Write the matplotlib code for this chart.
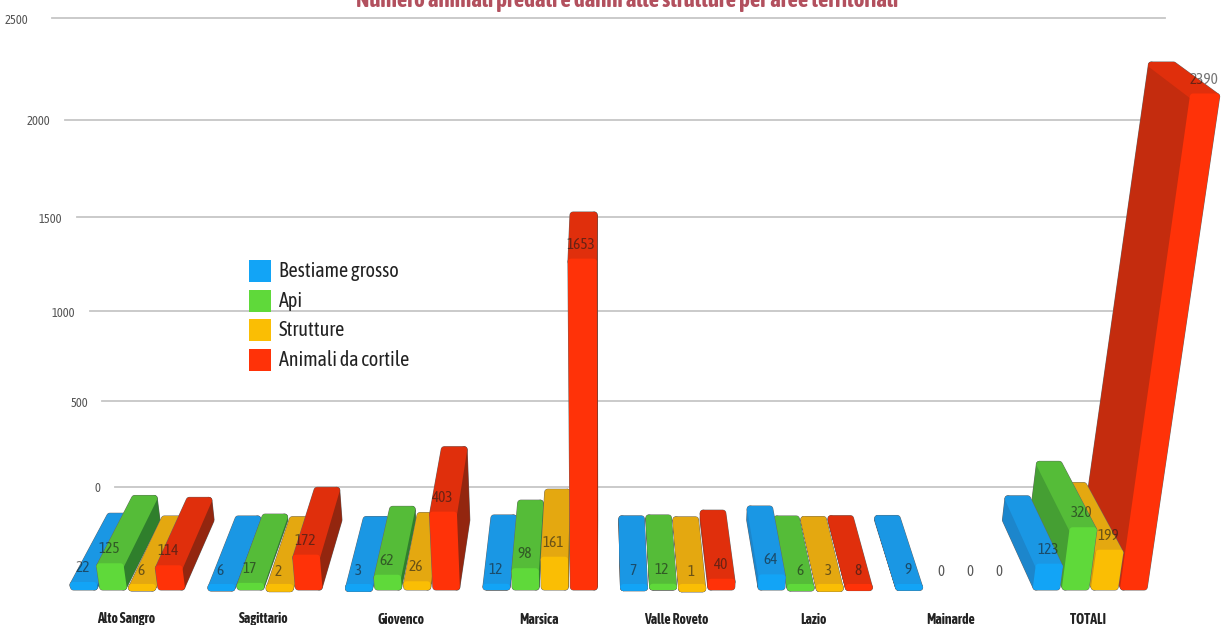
import matplotlib
matplotlib.use('Agg')
import matplotlib.pyplot as plt
from matplotlib.patches import Polygon, Rectangle

plt.rcParams['font.family'] = ['Asap Condensed', 'Barlow Condensed', 'Lato', 'DejaVu Sans']

title = 'Numero animali predati e danni alle strutture per aree territoriali'
categories = ['Alto Sangro', 'Sagittario', 'Giovenco', 'Marsica', 'Valle Roveto', 'Lazio', 'Mainarde', 'TOTALI']
bestiame = [22, 6, 3, 12, 7, 64, 9, 123]
api = [125, 17, 62, 98, 12, 6, 0, 320]
strutture = [6, 2, 26, 161, 1, 3, 0, 199]
cortile = [114, 172, 403, 1653, 40, 8, 0, 2390]
y_ticks = [0, 500, 1000, 1500, 2000, 2500]
series_names = ['Bestiame grosso', 'Api', 'Strutture', 'Animali da cortile']

series = [bestiame, api, strutture, cortile]
# front, top, side on the right, side on the left
colours = [('#12A4F6', '#1A97E4', '#1B6DA6', '#1C86CC'),
           ('#5FD93A', '#55BC38', '#2F7F2C', '#459F33'),
           ('#FABE04', '#E4A810', '#A67A10', '#CF9A0E'),
           ('#FF3208', '#E02F0C', '#93260F', '#C42C0E')]

# the picture is a perspective view, these map a value to the screen (pixels)
xc = 600
base_y = 590
back_base_y = 517
wall_zero_y = 487
half_w = 10.5
group_step = 137.5
bar_step = 29.1


def front_h(v):
    return 0.18 * v + 1.09e-5 * v ** 2


def wall_h(v):
    return 0.168 * v + 7.8e-6 * v ** 2


def lean(x, h):
    return xc + (x - xc) * (1 + 0.00027 * h)


def back_x(x, h):
    return xc + (x - xc) * 0.93 * (1 + 0.00027 * h)


fig = plt.figure(figsize=(12.21, 6.25), dpi=100)
ax = fig.add_axes([0, 0, 1, 1])
ax.set_xlim(0, 1221)
ax.set_ylim(625, 0)
ax.axis('off')

# back wall
tick_x = [97, 79, 63, 50, 38, 16]
for t, tx in zip(y_ticks, tick_x):
    y = wall_zero_y - wall_h(t)
    sc = 1 + 0.1275 * t / 2500
    x1 = 608.5 + (115 - 608.5) * sc
    x2 = 608.5 + (1102 - 608.5) * sc
    ax.plot([x1, x2], [y, y], color='#C6C6C6', lw=1.3, zorder=1)
    ax.text(tx, y + 2, str(t), ha='center', va='center', fontsize=9, color='#555555', zorder=1)

ax.text(627, 1, title, ha='center', va='center', fontsize=16.5, fontweight='bold', color='#B2505E', zorder=5)

bars = []
for g in range(len(categories)):
    for s in range(len(series)):
        x0 = 84 + group_step * g + bar_step * s
        bars.append((x0, series[s][g], s))

# outer bars first so the inner ones cover them
bars.sort(key=lambda b: -abs(b[0] - xc))

for x0, v, s in bars:
    if v == 0:
        continue
    front_c, top_c, side_r, side_l = colours[s]
    h = front_h(v)
    yf0 = base_y - 3
    yf1 = base_y - h - 1
    yb0 = back_base_y + 3
    yb1 = back_base_y + 3 - wall_h(v) * 1.02
    l, r = x0 - half_w, x0 + half_w
    f_bl, f_br = (lean(l, 0), yf0), (lean(r, 0), yf0)
    f_tl, f_tr = (lean(l, h), yf1), (lean(r, h), yf1)
    b_bl, b_br = (back_x(l, 0), yb0), (back_x(r, 0), yb0)
    b_tl, b_tr = (back_x(l, h), yb1), (back_x(r, h), yb1)
    if x0 < xc:
        side = [f_br, f_tr, b_tr, b_br]
        side_c = side_r
    else:
        side = [f_bl, f_tl, b_tl, b_bl]
        side_c = side_l
    top = [f_tl, f_tr, b_tr, b_tl]
    front = [f_bl, f_br, f_tr, f_tl]
    # thin dark rim then the faces
    for pts in (side, top, front):
        ax.add_patch(Polygon(pts, closed=True, fc='#666666', ec='#666666', lw=5.0, joinstyle='round', zorder=2))
    for pts, c in ((side, side_c), (top, top_c), (front, front_c)):
        ax.add_patch(Polygon(pts, closed=True, fc=c, ec=c, lw=4.4, joinstyle='round', zorder=2))

# value labels
for g in range(len(categories)):
    for s in range(len(series)):
        v = series[s][g]
        x0 = 84 + group_step * g + bar_step * s
        h = front_h(v)
        if v == 0:
            ax.text(x0 + 3, 572, '0', ha='center', va='center', fontsize=10.5, color='#555555', zorder=4)
        else:
            ax.text(lean(x0, h) - 1, base_y - h - 18, str(v), ha='center', va='center', fontsize=11,
                    color='#1A1A1A', alpha=0.6, zorder=4)
    ax.text(84 + group_step * g + 42, 619.5, categories[g], ha='center', va='center', fontsize=10,
            fontweight='bold', color='#222222', zorder=4)

# legend
for i, name in enumerate(series_names):
    y = 271 + 29.7 * i
    ax.add_patch(Rectangle((249, y - 11), 22, 22, fc=colours[i][0], ec='none', zorder=4))
    ax.text(279, y, name, ha='left', va='center', fontsize=14.5, color='#222222', zorder=4)

fig.savefig('out.png', dpi=100)
